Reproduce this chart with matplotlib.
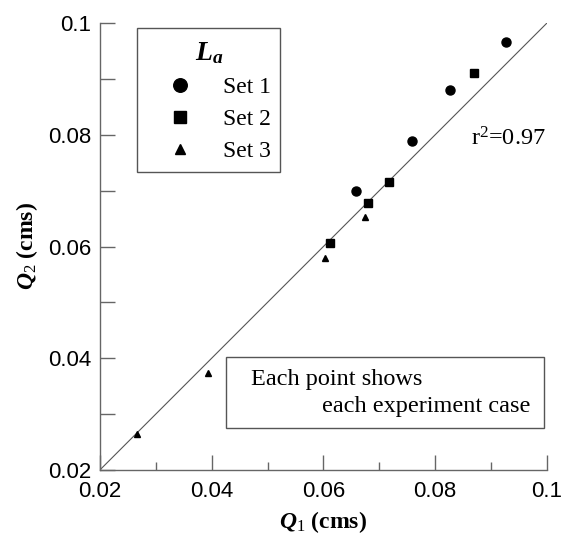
import matplotlib
matplotlib.use("Agg")
import matplotlib.pyplot as plt
from matplotlib.patches import Rectangle

plt.rcParams['mathtext.fontset'] = 'custom'
plt.rcParams['mathtext.rm'] = 'Liberation Serif'
plt.rcParams['mathtext.it'] = 'Liberation Serif:italic:bold'
plt.rcParams['mathtext.bf'] = 'Liberation Serif:bold'

# Set 1 (circles), Set 2 (squares), Set 3 (triangles)
set1_q1 = [0.0926, 0.0826, 0.0759, 0.0659]
set1_q2 = [0.0966, 0.0880, 0.0789, 0.0700]
set2_q1 = [0.0870, 0.0718, 0.0679, 0.0611]
set2_q2 = [0.0910, 0.0715, 0.0678, 0.0606]
set3_q1 = [0.0674, 0.0603, 0.0393, 0.0267]
set3_q2 = [0.0652, 0.0579, 0.0373, 0.0264]

ticks = [0.02, 0.04, 0.06, 0.08, 0.1]
tick_labels = ["0.02", "0.04", "0.06", "0.08", "0.1"]
minor_ticks = [0.03, 0.05, 0.07, 0.09]

fig = plt.figure(figsize=(5.61, 5.35), dpi=100)
ax = fig.add_axes([0.178, 0.1215, 0.797, 0.8355])

ax.plot([0.02, 0.1], [0.02, 0.1], color="#555555", lw=0.8, zorder=1)
ax.plot(set1_q1, set1_q2, "o", color="black", ms=6.5, ls="none", label="Set 1")
ax.plot(set2_q1, set2_q2, "s", color="black", ms=6, ls="none", label="Set 2")
ax.plot(set3_q1, set3_q2, "^", color="black", ms=4.5, ls="none", label="Set 3")

ax.set_xlim(0.02, 0.1)
ax.set_ylim(0.02, 0.1)
for s in ["top", "right"]:
    ax.spines[s].set_visible(False)
for s in ["left", "bottom"]:
    ax.spines[s].set_color("#666666")
    ax.spines[s].set_linewidth(1.0)

ax.set_xticks(ticks)
ax.set_xticklabels(tick_labels)
ax.set_yticks(ticks)
ax.set_yticklabels(tick_labels)
ax.set_xticks(minor_ticks, minor=True)
ax.set_yticks(minor_ticks, minor=True)
ax.tick_params(which="major", direction="in", length=11, width=1, color="#666666",
               labelsize=16)
ax.tick_params(axis="x", which="major", pad=8)
ax.tick_params(axis="y", which="major", pad=6)
ax.tick_params(axis="x", which="minor", direction="in", length=6, width=1, color="#666666")
ax.tick_params(axis="y", which="minor", direction="in", length=11, width=1, color="#666666")
for lab in ax.get_xticklabels() + ax.get_yticklabels():
    lab.set_family("Liberation Sans")

ax.set_xlabel(r"$Q_{\mathit{1}}$ (cms)", family="Liberation Serif", weight="bold",
              fontsize=17, labelpad=5)
ax.set_ylabel(r"$Q_{\mathit{2}}$ (cms)", family="Liberation Serif", weight="bold",
              fontsize=17, labelpad=6)

leg = ax.legend(loc="upper left", bbox_to_anchor=(0.084, 0.988), title=r"$L_a$",
                prop={"family": "Liberation Serif", "size": 17},
                title_fontproperties={"size": 20}, markerscale=1.5,
                fancybox=False, edgecolor="#555555", framealpha=1,
                handlelength=2.8, handletextpad=0.42, labelspacing=0.45,
                borderpad=0.4, borderaxespad=0)
leg.get_frame().set_linewidth(1.0)

ax.text(0.997, 0.74, r"r$^{2}$=0.97", transform=ax.transAxes, ha="right", va="center",
        family="Liberation Serif", fontsize=17.5)

ax.add_patch(Rectangle((0.283, 0.095), 0.711, 0.157, transform=ax.transAxes,
                       fill=False, edgecolor="#555555", lw=1.0))
ax.text(0.339, 0.203, "Each point shows", transform=ax.transAxes, ha="left",
        va="center", family="Liberation Serif", fontsize=17.5)
ax.text(0.963, 0.141, "each experiment case", transform=ax.transAxes, ha="right",
        va="center", family="Liberation Serif", fontsize=17.5)

fig.savefig("out.png", dpi=100)
